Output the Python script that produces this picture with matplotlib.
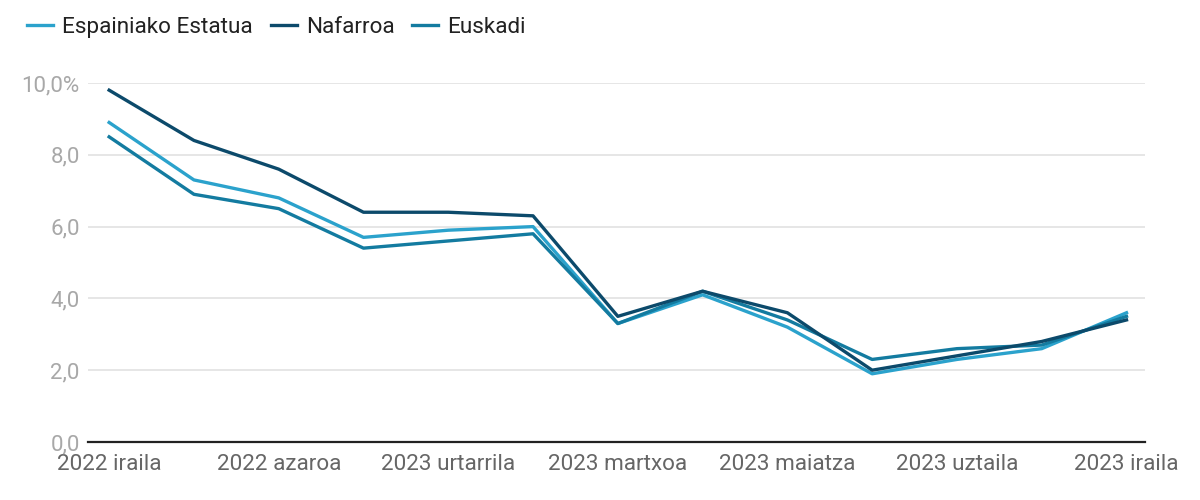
import numpy as np
import matplotlib.pyplot as plt

plt.rcParams['font.family'] = ['Roboto', 'DejaVu Sans']

# months 2022 iraila .. 2023 iraila
months = ['2022 iraila', '2022 urria', '2022 azaroa', '2022 abendua',
          '2023 urtarrila', '2023 otsaila', '2023 martxoa', '2023 apirila',
          '2023 maiatza', '2023 ekaina', '2023 uztaila', '2023 abuztua',
          '2023 iraila']
espainia = [8.9, 7.3, 6.8, 5.7, 5.9, 6.0, 3.3, 4.1, 3.2, 1.9, 2.3, 2.6, 3.6]
nafarroa = [9.8, 8.4, 7.6, 6.4, 6.4, 6.3, 3.5, 4.2, 3.6, 2.0, 2.4, 2.8, 3.4]
euskadi = [8.5, 6.9, 6.5, 5.4, 5.6, 5.8, 3.3, 4.2, 3.4, 2.3, 2.6, 2.7, 3.5]
yticks = [0, 2, 4, 6, 8, 10]
ytick_labels = ['0,0', '2,0', '4,0', '6,0', '8,0', '10,0%']

fig = plt.figure(figsize=(12, 5), dpi=100)
ax = fig.add_axes([0.0733, 0.116, 0.881, 0.718])

x = np.arange(len(months))
ax.plot(x, espainia, color='#2ba2cc', lw=2.4, label='Espainiako Estatua', zorder=3)
ax.plot(x, nafarroa, color='#0c4a6b', lw=2.4, label='Nafarroa', zorder=4)
ax.plot(x, euskadi, color='#137ba0', lw=2.4, label='Euskadi', zorder=3)

ax.set_xlim(-0.25, 12.22)
ax.set_ylim(0, 10)
ax.set_yticks(yticks)
ax.set_yticklabels(ytick_labels)
ax.set_xticks(x[::2])
ax.set_xticklabels(months[::2])
ax.grid(axis='y', color='#e2e2e2', lw=1.2)
ax.set_axisbelow(True)
for s in ['top', 'right', 'left']:
    ax.spines[s].set_visible(False)
ax.spines['bottom'].set_color('#222222')
ax.spines['bottom'].set_linewidth(1.6)
ax.spines['bottom'].set_zorder(5)
ax.tick_params(axis='y', length=0, pad=6, labelsize=16, labelcolor='#a8a8a8')
ax.tick_params(axis='x', length=0, pad=9, labelsize=16.2, labelcolor='#666666')

fig.legend(loc='upper left', bbox_to_anchor=(0.006, 1.006), ncol=3, frameon=False,
           fontsize=16.2, handlelength=1.15, handletextpad=0.4, columnspacing=0.8,
           labelcolor='#222222')

fig.savefig('out.png', dpi=100)
